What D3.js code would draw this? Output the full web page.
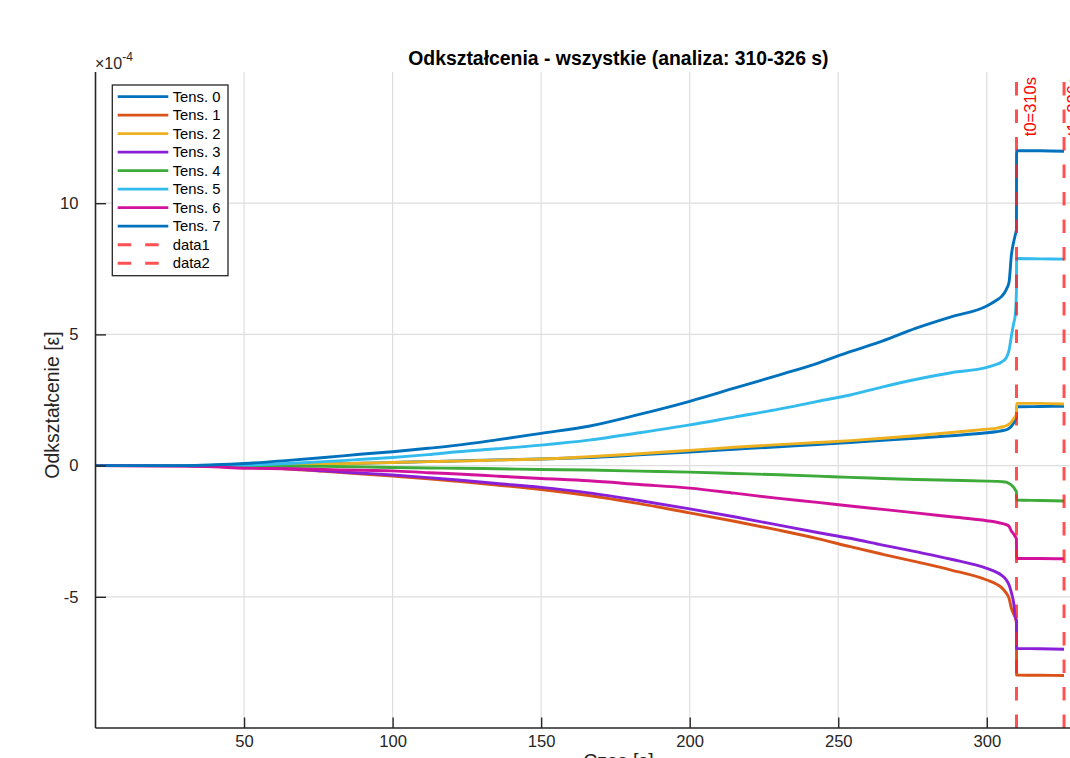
<!DOCTYPE html>
<html>
<head>
<meta charset="utf-8">
<script src="https://cdn.jsdelivr.net/npm/d3@7"></script>
<style>
  html, body { margin: 0; padding: 0; background: #ffffff; overflow: hidden; }
  svg { display: block; font-family: "Liberation Sans", Arial, Helvetica, sans-serif; }
</style>
</head>
<body>
<svg id="chart" width="1070" height="758"></svg>
<script>
// ---- data (time in s, strain in units of 1e-4) ----
const times = [0, 30, 40, 50, 65, 77, 90, 100, 112, 122, 135, 150, 166, 183, 200, 215, 230, 243, 254, 265, 276, 288, 300, 303, 305, 306.5, 307.5, 308.3, 309, 309.6, 309.98, 310.02, 318, 326];

const tens0 = [0, 0, 0, 0.01, 0.03, 0.06, 0.09, 0.12, 0.15, 0.18, 0.22, 0.25, 0.31, 0.41, 0.52, 0.62, 0.72, 0.80, 0.88, 0.96, 1.04, 1.14, 1.25, 1.29, 1.33, 1.36, 1.42, 1.50, 1.62, 1.73, 1.85, 2.24, 2.25, 2.26];
const tens1 = [0, -0.01, -0.03, -0.06, -0.13, -0.22, -0.32, -0.40, -0.50, -0.60, -0.74, -0.91, -1.14, -1.45, -1.80, -2.12, -2.46, -2.78, -3.09, -3.38, -3.66, -3.98, -4.36, -4.50, -4.65, -4.85, -5.06, -5.45, -5.65, -5.80, -6.00, -7.98, -7.99, -8.00];
const tens2 = [0, 0, 0, 0.01, 0.03, 0.06, 0.09, 0.12, 0.15, 0.17, 0.21, 0.25, 0.34, 0.45, 0.58, 0.70, 0.80, 0.88, 0.95, 1.04, 1.14, 1.26, 1.39, 1.42, 1.47, 1.52, 1.58, 1.67, 1.78, 1.86, 1.95, 2.37, 2.37, 2.35];
const tens3 = [0, -0.01, -0.03, -0.06, -0.12, -0.20, -0.29, -0.36, -0.46, -0.55, -0.68, -0.83, -1.04, -1.33, -1.65, -1.95, -2.27, -2.55, -2.77, -3.03, -3.28, -3.57, -3.92, -4.05, -4.18, -4.35, -4.55, -4.85, -5.20, -5.76, -5.90, -6.97, -6.98, -7.00];
const tens4 = [0, 0, 0, -0.01, -0.02, -0.03, -0.05, -0.07, -0.09, -0.10, -0.12, -0.15, -0.17, -0.21, -0.25, -0.30, -0.35, -0.40, -0.45, -0.49, -0.53, -0.56, -0.59, -0.60, -0.61, -0.63, -0.68, -0.74, -0.82, -0.93, -1.00, -1.31, -1.33, -1.35];
const tens5 = [0, 0, 0, 0.02, 0.08, 0.15, 0.24, 0.31, 0.42, 0.53, 0.64, 0.78, 0.97, 1.25, 1.55, 1.85, 2.15, 2.45, 2.69, 3.00, 3.28, 3.54, 3.74, 3.85, 3.95, 4.10, 4.40, 4.95, 5.40, 5.75, 6.70, 7.89, 7.88, 7.87];
const tens6 = [0, -0.02, -0.05, -0.10, -0.12, -0.15, -0.18, -0.20, -0.27, -0.32, -0.40, -0.49, -0.58, -0.72, -0.86, -1.05, -1.25, -1.40, -1.54, -1.67, -1.80, -1.95, -2.10, -2.15, -2.20, -2.25, -2.32, -2.50, -2.60, -2.71, -2.80, -3.54, -3.54, -3.55];
const tens7 = [0, 0, 0.03, 0.08, 0.20, 0.31, 0.44, 0.53, 0.66, 0.78, 0.98, 1.23, 1.50, 1.95, 2.45, 2.95, 3.45, 3.90, 4.34, 4.75, 5.23, 5.67, 6.08, 6.28, 6.45, 6.70, 7.00, 8.05, 8.50, 8.80, 9.00, 12.00, 12.00, 11.98];

const seriesNames = ["Tens. 0", "Tens. 1", "Tens. 2", "Tens. 3", "Tens. 4", "Tens. 5", "Tens. 6", "Tens. 7"];
const seriesColors = ["#0072BD", "#D95319", "#EDB120", "#8A1FD8", "#3DAA3A", "#33BBEE", "#D2129A", "#0072BD"];
const seriesValues = [tens0, tens1, tens2, tens3, tens4, tens5, tens6, tens7];

const markerTimes = [310, 326];
const markerNames = ["data1", "data2"];
const markerLabels = ["t0=310s", "t1=326s"];

const xTicks = [50, 100, 150, 200, 250, 300];
const yTicks = [-5, 0, 5, 10];
const xDomain = [0, 352];
const yDomain = [-10, 15];

const titleText = "Odkształcenia - wszystkie (analiza: 310-326 s)";
const xLabelText = "Czas [s]";
const yLabelText = "Odkształcenie [ε]";

// ---- layout ----
const svg = d3.select("#chart");
const plotLeft = 95.5, plotTop = 72, plotBottom = 728;
const pxPerUnit = 2.971;
const plotRight = plotLeft + (xDomain[1] - xDomain[0]) * pxPerUnit;

const x = d3.scaleLinear().domain(xDomain).range([plotLeft, plotRight]);
const y = d3.scaleLinear().domain(yDomain).range([plotBottom, plotTop]);

const axisColor = "#262626";

// grid
const grid = svg.append("g");
grid.selectAll("line.gx").data(xTicks).enter().append("line")
  .attr("x1", d => x(d)).attr("x2", d => x(d))
  .attr("y1", plotTop).attr("y2", plotBottom)
  .attr("stroke", "#dedede").attr("stroke-width", 1.2);
grid.selectAll("line.gy").data(yTicks).enter().append("line")
  .attr("x1", plotLeft).attr("x2", plotRight)
  .attr("y1", d => y(d)).attr("y2", d => y(d))
  .attr("stroke", "#dedede").attr("stroke-width", 1.2);

// series lines
const plotG = svg.append("g");
const line = d3.line().x(d => x(d[0])).y(d => y(d[1]));
const smoothLine = d3.line().x(d => x(d[0])).y(d => y(d[1])).curve(d3.curveMonotoneX);
seriesValues.forEach((vals, i) => {
  const pts = times.map((t, k) => [t, vals[k]]);
  plotG.append("path")
    .attr("d", smoothLine(pts))
    .attr("fill", "none")
    .attr("stroke", seriesColors[i])
    .attr("stroke-width", 2.9)
    .attr("stroke-linejoin", "round")
    .attr("stroke-linecap", "butt");
});

// vertical dashed markers
markerTimes.forEach((t) => {
  plotG.append("path")
    .attr("d", line([[t, yDomain[0]], [t, yDomain[1]]]))
    .attr("fill", "none")
    .attr("stroke", "#ff2020")
    .attr("stroke-opacity", 0.78)
    .attr("stroke-width", 3)
    .attr("stroke-dasharray", "13.5,14");
});

// marker labels
const labelOffsets = [19, 15];
markerTimes.forEach((t, i) => {
  const lx = x(t) + labelOffsets[i];
  const ly = 77;
  svg.append("text")
    .attr("transform", `translate(${lx},${ly}) rotate(-90)`)
    .attr("text-anchor", "end")
    .attr("font-size", 16.5)
    .attr("fill", "#ff0000")
    .text(markerLabels[i]);
});

// axes (left & bottom), ticks inward
const fmt = d => String(d);
const xAxis = d3.axisBottom(x).tickValues(xTicks).tickFormat(fmt).tickSizeInner(-10.5).tickSizeOuter(0).tickPadding(18);
const yAxis = d3.axisLeft(y).tickValues(yTicks).tickFormat(fmt).tickSizeInner(-10.5).tickSizeOuter(0).tickPadding(17);

const gx = svg.append("g").attr("transform", `translate(0,${plotBottom})`).call(xAxis);
const gy = svg.append("g").attr("transform", `translate(${plotLeft},0)`).call(yAxis);
[gx, gy].forEach(g => {
  g.select(".domain").attr("stroke", axisColor).attr("stroke-width", 1.6);
  g.selectAll(".tick line").attr("stroke", axisColor).attr("stroke-width", 1.4);
  g.selectAll(".tick text").attr("fill", axisColor).attr("font-size", 16.6)
    .attr("font-family", "'Liberation Sans', Arial, Helvetica, sans-serif");
});
gy.select(".domain").attr("d", `M0,${plotBottom}V${plotTop}`);
gx.select(".domain").attr("d", `M${plotLeft},0H${plotRight}`);
gx.selectAll(".tick text").attr("dy", "0").attr("y", 19);

// exponent label
const expG = svg.append("text").attr("x", 95).attr("y", 68.5).attr("fill", axisColor).attr("font-size", 16);
expG.append("tspan").text("×10");
expG.append("tspan").attr("font-size", 12).attr("dy", -7.5).text("-4");

// title
svg.append("text")
  .attr("x", (plotLeft + plotRight) / 2).attr("y", 65)
  .attr("text-anchor", "middle")
  .attr("font-size", 19.4).attr("font-weight", "bold").attr("fill", "#000")
  .text(titleText);

// axis labels
svg.append("text")
  .attr("x", (plotLeft + plotRight) / 2).attr("y", 768)
  .attr("text-anchor", "middle")
  .attr("font-size", 19.5).attr("fill", axisColor)
  .text(xLabelText);
svg.append("text")
  .attr("transform", `translate(59,${(plotTop + plotBottom) / 2 + 5}) rotate(-90)`)
  .attr("text-anchor", "middle")
  .attr("font-size", 19.5).attr("fill", axisColor)
  .text(yLabelText);

// legend
const legX = 112.3, legY = 85, legW = 115.7, legH = 190.7;
const leg = svg.append("g");
leg.append("rect").attr("x", legX).attr("y", legY).attr("width", legW).attr("height", legH)
  .attr("fill", "#fff").attr("stroke", axisColor).attr("stroke-width", 1.3);
const legendItems = seriesNames.map((n, i) => ({ name: n, color: seriesColors[i], dashed: false }))
  .concat(markerNames.map(n => ({ name: n, color: "#ff2020", dashed: true })));
legendItems.forEach((it, i) => {
  const cy = 96.7 + i * 18.5;
  leg.append("line")
    .attr("x1", 117.7).attr("x2", 168.3).attr("y1", cy).attr("y2", cy)
    .attr("stroke", it.color)
    .attr("stroke-width", it.dashed ? 3 : 2.8)
    .attr("stroke-opacity", it.dashed ? 0.78 : 1)
    .attr("stroke-dasharray", it.dashed ? "13.5,14" : null);
  leg.append("text")
    .attr("x", 172.7).attr("y", cy + 5.2)
    .attr("font-size", 14.8).attr("fill", "#000")
    .text(it.name);
});
</script>
</body>
</html>
